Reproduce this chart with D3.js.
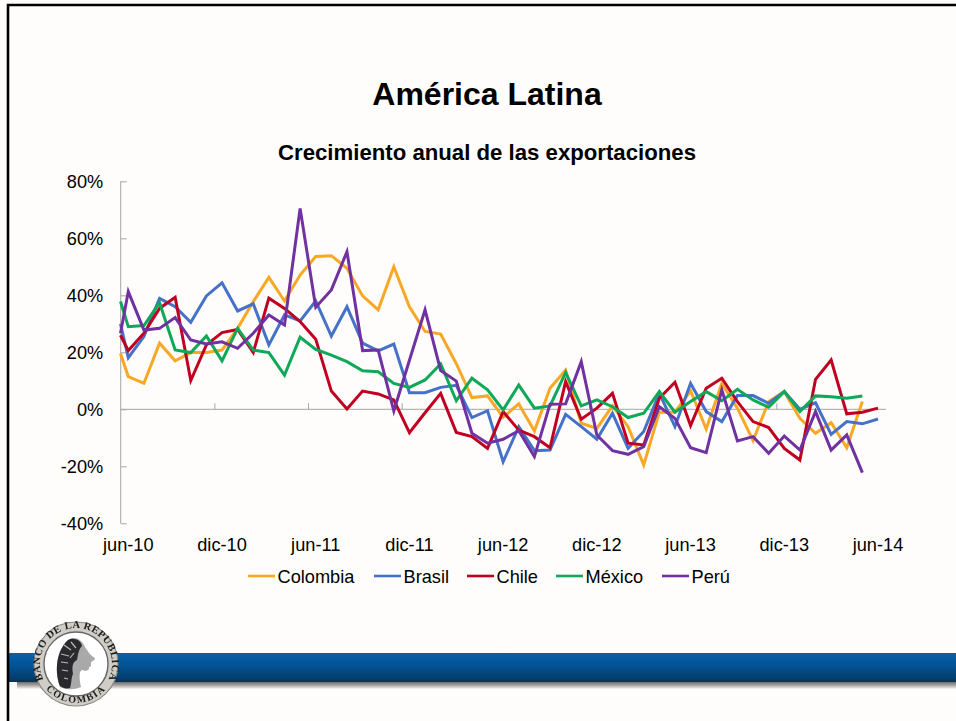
<!DOCTYPE html>
<html><head><meta charset="utf-8">
<script src="https://cdn.jsdelivr.net/npm/d3@7/dist/d3.min.js"></script>
<style>html,body{margin:0;padding:0;background:#fff}svg{display:block}text{font-family:"Liberation Sans",Arial,sans-serif}</style>
</head><body><svg id="c" width="956" height="721"></svg>
<script>
const monthIndex=[-0.5].concat(d3.range(0,49));
const colombia=[19.6,11.5,9.1,23.2,17,19.9,19.9,20.8,28.4,37.8,46.3,38,47.1,53.6,53.9,49.5,39.8,34.9,50,36,27.3,26.4,16,4.1,4.7,-2.8,1.9,-7.6,7.4,13.8,-4.9,-6.7,1.2,-6.1,-19.5,-1,-1,6.5,-6.9,9.1,.4,-11,2.7,6.2,-3.2,-8.4,-4.7,-13.5,2.7];
const brasil=[30,18.1,25.5,38.9,36,30.5,39.8,44.4,34.5,37,22.6,33.1,31,38,25.7,36,23.2,20.5,22.9,5.8,5.8,7.7,8.4,-2.9,-.5,-18.4,-6.1,-14.5,-14.3,-1.8,-6.1,-10.5,-1.4,-13.7,-7.8,5.6,-6.1,9.1,-.8,-4.3,4.8,4.8,2.1,6.2,0,2.3,-8.8,-4.3,-5.1,-3.4];
const chile=[26,20.6,26.7,35.4,39.3,10.1,22.6,26.9,28,19.9,39,35.4,30.8,24.6,6.4,.1,6.4,5.4,3.3,-8.2,-1.2,5.6,-8.1,-9.6,-13.7,-.8,-7.3,-9.6,-13.5,9.7,-3.5,.4,5.6,-11.9,-12.5,3.9,9.5,-5.7,7.4,10.9,2.7,-4.3,-6.4,-13.7,-17.8,10.5,17.3,-1.6,-1,.4];
const mexico=[37.8,29,29.4,37.4,20.8,19.9,25.7,17,28.4,20.8,19.9,12,25.3,21,19,16.7,13.5,13.2,9.1,7.7,10.3,15.9,3,10.9,6.8,-.2,8.5,.4,1.2,12.9,1.2,3.3,.9,-2.9,-1.4,6.2,-1,2.7,6.2,3,7,3.3,.7,6.2,-.8,4.7,4.4,3.9,4.7];
const peru=[26.7,41.3,27.8,28.4,32.2,24.3,22.9,23.7,21.4,26.7,33.1,29.6,70.5,35.8,41.9,55.3,20.6,20.8,-.6,17.2,34.9,13.6,9.9,-8.4,-11.9,-10.5,-7.5,-16.6,1.8,1.9,16.7,-9,-14.5,-15.8,-13.1,.9,-3.2,-13.5,-15.2,6.8,-11.1,-9.6,-15.4,-9.4,-14.3,-.8,-14.3,-9,-22.2];
const seriesNames=["Colombia","Brasil","Chile","México","Perú"];
const seriesValues=[colombia,brasil,chile,mexico,peru];
const seriesColors=["#f9a825","#4472c8","#c00020","#10a858","#7030a0"];
const xLabels=["jun-10","dic-10","jun-11","dic-11","jun-12","dic-12","jun-13","dic-13","jun-14"];
const yTicks=[-40,-20,0,20,40,60,80];

const svg=d3.select("#c");
const defs=svg.append("defs");
const g=defs.append("linearGradient").attr("id","band").attr("x1",0).attr("y1",0).attr("x2",0).attr("y2",1);
[[0,"#0a62ac"],[.5,"#02508f"],[.85,"#053f6f"],[1,"#103050"]].forEach(s=>g.append("stop").attr("offset",s[0]).attr("stop-color",s[1]));
const sh=defs.append("linearGradient").attr("id","shade").attr("x1",0).attr("y1",0).attr("x2",0).attr("y2",1);
[[0,"#6d6e70"],[.5,"#adaaa6"],[1,"#fbf9f5"]].forEach(s=>sh.append("stop").attr("offset",s[0]).attr("stop-color",s[1]));
defs.append("filter").attr("id","blur").append("feGaussianBlur").attr("stdDeviation",.5);
defs.append("filter").attr("id","blur2").append("feGaussianBlur").attr("stdDeviation",.6);

svg.append("rect").attr("width",956).attr("height",721).attr("fill","#fefdfb");
svg.append("rect").attr("x",17).attr("y",682).attr("width",939).attr("height",7).attr("fill","url(#shade)");
svg.append("rect").attr("x",9).attr("y",653).attr("width",947).attr("height",29).attr("fill","url(#band)");
svg.append("path").attr("d","M8 721V5H956").attr("fill","none").attr("stroke","#000").attr("stroke-width",2.6);

svg.append("text").attr("x",487).attr("y",105).attr("text-anchor","middle").attr("font-size",32).attr("font-weight",700).attr("fill","#000").text("América Latina");
svg.append("text").attr("x",487).attr("y",160).attr("text-anchor","middle").attr("font-size",22.2).attr("font-weight",700).attr("fill","#000").text("Crecimiento anual de las exportaciones");

const x=d3.scaleLinear().domain([0,48]).range([128.3,878]);
const y=d3.scaleLinear().domain([-40,80]).range([523.3,181.3]);
const axisY=svg.append("g").attr("transform","translate(120.7,0)").call(d3.axisLeft(y).tickValues(yTicks).tickSize(-6).tickPadding(17.5).tickFormat(d=>d+"%"));
axisY.selectAll("path,line").attr("stroke","#a6a6a6");
axisY.selectAll("text").attr("font-size",18.2).attr("fill","#000");
axisY.select(".domain").attr("d","M0,181.3V523.3");
const tickX=d3.scaleLinear().domain([0,8]).range([120.7,870]);
const axisX=svg.append("g").attr("transform","translate(0,"+y(0)+")").call(d3.axisBottom(tickX).tickValues(d3.range(1,8)).tickSize(-6).tickFormat(""));
axisX.selectAll("path,line").attr("stroke","#a6a6a6");
axisX.select(".domain").attr("d","M120.7,0H886");
svg.append("g").selectAll("text").data(xLabels).join("text").attr("x",(d,i)=>x(i*6)).attr("y",551).attr("text-anchor","middle").attr("font-size",18.2).attr("fill","#000").text(d=>d);

const line=d3.line().x((d,i)=>x(monthIndex[i])).y(d=>y(d)).curve(d3.curveLinear);
svg.append("g").attr("filter","url(#blur)").selectAll("path").data(seriesValues).join("path").attr("d",line).attr("fill","none").attr("stroke",(d,i)=>seriesColors[i]).attr("stroke-width",3).attr("stroke-linejoin","miter");

const legX=[248,374,467,556,662], legEnd=[275,401,494,583,689];
const leg=svg.append("g");
seriesNames.forEach((n,i)=>{
  leg.append("line").attr("x1",legX[i]).attr("x2",legEnd[i]).attr("y1",576).attr("y2",576).attr("stroke",seriesColors[i]).attr("stroke-width",2.6);
  leg.append("text").attr("x",legEnd[i]+2.5).attr("y",583).attr("font-size",18.2).attr("fill","#000").text(n);
});

// escudo
const lg=svg.append("g").attr("transform","translate(76,664)").attr("filter","url(#blur2)");
lg.append("circle").attr("r",42).attr("fill","#cfcdc6").attr("stroke","#8a8984").attr("stroke-width",1.2);
lg.append("circle").attr("r",32).attr("fill","#fff").attr("stroke","#66666a").attr("stroke-width",1.4);
defs.append("path").attr("id","arcTop").attr("d","M-30 20A36 36 0 1 1 30 20");
defs.append("path").attr("id","arcBot").attr("d","M-30 25A39.5 39.5 0 0 0 30 25");
lg.append("text").attr("font-size",10.5).attr("font-weight",700).attr("letter-spacing",.4).style("font-family","'Liberation Serif',serif").attr("fill","#1c1c1c").append("textPath").attr("href","#arcTop").attr("startOffset","50%").attr("text-anchor","middle").text("BANCO DE LA REPUBLICA");
lg.append("text").attr("font-size",10).attr("font-weight",700).attr("letter-spacing",1.4).style("font-family","'Liberation Serif',serif").attr("fill","#1c1c1c").append("textPath").attr("href","#arcBot").attr("startOffset","50%").attr("text-anchor","middle").text("COLOMBIA");
lg.append("path").attr("d","M-16 23C-21 10-21-12-8-24C-2-29 6-24 8-19C10-15 12-13 13-11C16-7 19-7 19-5C18-3 15-3 15-1C15 2 15 3 13 3C14 6 10 8 6 6C3 7 3 14 5 23C-2 26-10 26-16 23Z").attr("fill","#a9a9a9");
lg.append("path").attr("d","M-16 22C-21 10-21-12-8-24C-2-27 5-24 6-18C2-14 2-8 1-4C-4-2-4 4-3 10C-5 14-4 18-6 24C-10 25-13 24-16 22Z").attr("fill","#2c2c2e");
lg.append("g").attr("stroke","#b8b8b8").attr("stroke-width",1.2).attr("fill","none").selectAll("path").data(["M-12-19L-5-14","M-15-10L-7-8","M-15-2L-8-1","M-14 6L-8 7","M-12 14L-8 15","M-5-22L0-16","M-6-6L-2-11"]).join("path").attr("d",d=>d);
</script></body></html>
